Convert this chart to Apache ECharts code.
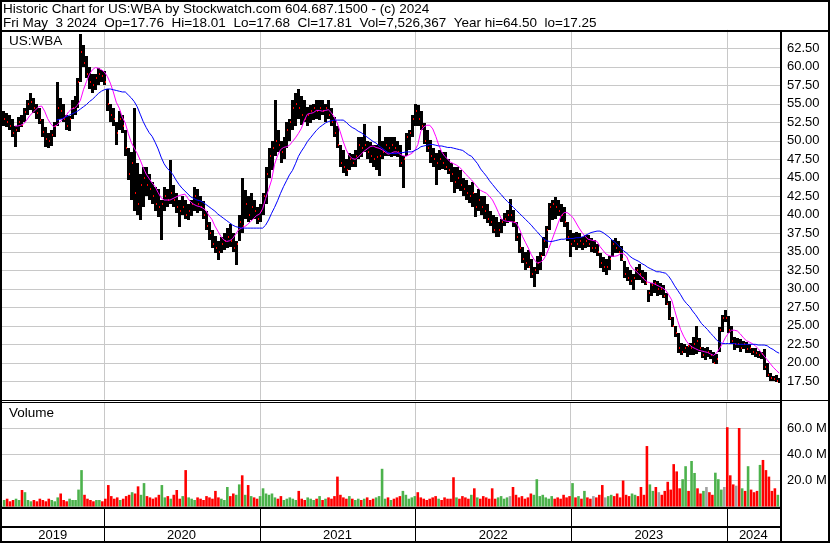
<!DOCTYPE html>
<html><head><meta charset="utf-8">
<script src="https://cdn.jsdelivr.net/npm/echarts/dist/echarts.min.js"></script>
<style>html,body{margin:0;padding:0;background:#fff}#c{width:830px;height:543px}</style>
</head><body><div id="c"></div>
<script>
// weekly bars (Fridays) from 2019-05-10 to 2024-05-03
const firstWeek = [2019, 4, 10];
const lows = [52.0,51.8,51.5,50.5,49.2,51.2,51.8,52.5,53.5,54.2,
 53.8,53.0,52.3,50.5,49.2,49.0,49.3,50.5,52.0,53.0,
 52.5,51.5,51.3,53.0,53.5,54.5,58.0,60.0,58.5,57.0,
 56.5,56.8,57.5,58.0,57.5,54.0,52.5,52.0,49.5,51.5,
 51.0,48.0,44.7,42.0,40.5,40.0,39.3,41.0,42.5,42.0,
 41.5,40.5,39.7,36.6,40.5,41.0,41.5,41.0,40.3,38.3,
 40.0,39.5,39.3,39.8,40.5,40.3,40.5,39.5,38.0,36.6,
 35.5,34.8,33.9,34.8,35.2,35.5,35.7,35.0,33.2,36.5,
 37.6,39.5,39.0,39.3,39.5,38.8,39.0,40.0,41.5,45.0,
 46.0,48.0,48.5,47.0,47.5,49.0,50.0,51.5,52.0,53.0,
 52.2,52.5,52.0,52.4,52.8,53.0,52.8,53.5,52.5,53.0,
 52.0,50.5,49.0,46.5,45.6,45.2,46.0,46.5,46.5,47.5,
 47.8,48.5,47.5,47.0,46.5,46.0,45.2,47.5,48.0,48.0,
 47.8,48.0,47.8,46.5,43.6,48.0,48.8,50.5,52.0,52.0,
 51.5,49.6,48.5,47.0,46.5,44.0,46.0,46.2,46.0,45.5,
 44.5,43.0,43.5,43.2,42.5,42.0,41.6,41.0,39.7,40.5,
 40.0,39.5,38.9,38.5,37.5,37.0,37.0,37.5,38.5,38.9,
 39.0,38.3,36.5,34.8,33.5,32.5,32.8,31.5,30.2,32.0,
 32.5,34.5,35.5,38.0,39.3,39.5,39.8,39.0,38.4,36.5,
 34.3,35.6,35.3,35.5,35.3,35.5,35.6,35.0,34.8,34.5,
 32.8,32.3,31.9,32.5,34.3,34.8,34.8,33.8,31.5,31.0,
 30.5,29.8,31.2,31.2,30.8,30.5,28.2,29.0,29.5,29.0,
 29.2,28.8,27.8,25.8,24.8,23.5,21.3,21.1,21.3,20.8,
 21.0,21.0,21.2,21.5,20.7,20.4,20.8,20.5,20.0,19.8,
 21.5,24.2,25.5,24.0,22.5,21.7,22.0,21.5,21.8,21.3,
 21.3,21.0,20.8,20.7,20.5,19.0,18.1,17.6,17.5,17.4,17.25];
const highs = [54.0,53.8,53.5,53.0,52.0,53.2,53.5,54.5,55.5,56.4,
 55.8,55.0,54.5,53.0,51.8,51.0,51.5,52.5,58.0,55.8,
 55.0,53.5,53.3,55.5,56.0,58.5,64.5,63.0,61.5,60.0,
 59.0,59.0,59.8,59.6,59.5,57.0,55.0,54.5,52.5,54.0,
 53.5,51.5,49.0,48.5,54.4,47.0,45.5,46.5,46.5,45.5,
 44.5,43.8,43.5,42.0,43.8,43.5,47.4,44.0,43.0,42.0,
 42.5,42.0,41.5,42.0,43.8,43.5,42.5,41.8,40.5,39.0,
 38.0,37.2,36.5,37.0,37.6,38.2,38.7,37.5,36.5,40.0,
 45.0,43.4,42.5,43.0,42.0,41.0,41.5,43.0,46.5,49.0,
 50.0,55.5,51.5,50.0,50.5,52.5,53.0,55.5,56.4,57.0,
 56.0,55.5,54.6,54.8,55.0,55.5,55.5,55.5,55.0,55.5,
 54.5,53.2,52.0,49.5,48.8,47.5,48.4,48.2,48.8,50.5,
 50.5,52.3,50.0,49.8,49.5,49.5,52.0,50.0,50.5,50.5,
 50.5,50.5,50.0,49.5,48.0,51.0,51.5,53.5,55.0,54.8,
 54.0,52.4,51.5,50.1,49.0,48.3,48.8,48.5,48.5,47.5,
 47.0,46.5,46.5,46.0,45.0,44.7,44.0,44.4,43.0,43.5,
 42.5,42.5,41.5,40.5,40.0,39.7,39.0,39.5,40.2,40.7,
 42.1,40.7,39.0,37.5,35.6,35.0,35.3,34.0,33.0,34.5,
 35.0,37.0,38.5,41.6,42.0,42.4,42.0,41.5,41.1,39.0,
 37.9,37.5,37.7,37.5,37.0,37.3,37.3,36.8,36.6,36.0,
 34.8,34.3,34.0,34.5,36.6,36.8,36.5,35.8,33.8,33.0,
 32.5,32.0,33.0,33.3,32.5,32.3,29.8,30.8,31.2,31.0,
 30.8,30.5,29.4,28.3,26.2,25.0,24.0,22.7,22.5,22.3,
 22.7,23.5,25.0,23.3,22.1,22.0,22.2,21.7,21.5,21.2,
 24.8,26.5,27.2,26.3,25.0,23.5,23.4,23.2,23.0,22.8,
 22.5,22.0,22.0,21.6,21.5,21.8,20.0,18.6,18.2,18.4,18.01];
const closes = [53.0,52.6,52.0,51.0,51.5,52.5,52.2,53.9,55.0,55.2,
 54.5,53.8,52.8,51.2,50.2,50.0,50.8,52.0,54.5,54.0,
 53.0,52.0,53.0,54.5,55.5,58.0,62.0,60.5,59.0,58.0,
 57.5,58.5,59.0,58.8,58.0,55.0,53.5,53.0,51.0,53.0,
 52.0,49.0,45.5,47.0,43.0,41.5,44.0,45.0,44.0,43.5,
 42.5,41.5,41.0,41.5,42.5,42.0,43.0,42.0,41.0,40.5,
 41.0,40.0,40.5,41.5,42.5,41.5,41.0,40.0,38.5,37.5,
 36.0,35.5,35.0,36.0,36.5,37.0,36.5,35.5,36.0,39.0,
 38.5,41.5,40.0,41.0,40.5,39.5,40.5,42.5,45.5,48.0,
 49.0,50.0,49.5,48.5,50.0,51.5,52.5,54.5,55.0,54.5,
 53.5,53.0,53.5,54.0,54.5,54.0,54.5,54.0,54.5,53.5,
 52.5,51.0,49.5,47.0,46.5,46.0,47.5,47.0,48.0,49.5,
 49.0,49.5,48.5,48.0,47.5,47.8,48.0,48.5,49.5,49.0,
 49.5,49.0,48.5,47.0,47.5,50.5,51.0,53.0,54.0,53.0,
 52.0,50.0,49.0,48.0,47.5,47.0,47.5,47.0,46.5,46.0,
 45.5,44.5,45.0,44.0,43.5,43.0,42.5,43.0,41.0,42.0,
 41.0,40.5,39.5,39.0,38.0,37.5,38.0,39.0,39.5,40.0,
 40.0,39.0,37.0,35.5,34.0,33.5,33.0,32.0,32.5,33.5,
 34.5,36.5,38.0,41.0,41.5,41.0,40.5,40.0,39.0,37.0,
 36.0,36.5,36.0,36.5,36.0,36.5,36.0,35.5,35.5,35.0,
 33.5,33.0,33.0,34.0,36.0,35.5,35.0,34.0,32.0,31.5,
 31.0,31.5,32.5,32.0,31.5,30.8,29.5,30.5,30.8,30.0,
 30.0,29.0,28.0,26.0,25.0,24.0,22.0,21.5,22.0,22.3,
 22.0,22.5,23.0,22.0,21.0,21.5,21.5,21.0,20.0,20.5,
 24.5,26.0,26.0,24.5,23.0,22.5,22.5,22.0,22.5,21.8,
 22.0,21.5,21.3,21.0,21.2,19.5,18.3,18.0,17.8,17.6,17.81];
const maShort = [null,null,null,null,52.0,52.0,52.1,52.3,52.8,53.4,
 53.8,54.2,54.6,54.7,54.0,53.0,52.3,51.9,52.1,52.5,
 52.9,53.3,53.9,54.3,54.4,54.8,55.5,56.9,58.0,59.0,
 59.6,59.9,59.8,59.6,59.3,58.7,57.8,56.6,55.2,54.4,
 53.2,52.4,51.0,49.8,49.0,48.3,47.4,46.4,45.5,44.9,
 44.3,43.8,43.0,42.3,42.0,42.0,42.0,42.2,42.4,42.6,
 42.7,42.8,42.2,41.7,41.4,41.2,41.1,40.9,40.6,39.9,
 39.4,38.5,37.8,37.1,36.6,36.4,36.5,36.8,37.4,38.0,
 38.2,38.4,38.7,39.1,39.5,39.9,40.1,40.8,42.2,43.4,
 44.7,46.8,48.0,48.8,49.1,49.2,49.4,49.9,50.4,51.0,
 51.7,52.8,53.6,53.7,53.8,54.1,54.1,54.0,54.1,54.2,
 53.8,53.2,52.4,51.2,49.9,48.8,48.0,47.6,47.5,47.8,
 48.2,48.6,48.9,49.2,49.3,49.1,49.0,48.8,48.5,48.2,
 48.3,48.5,48.5,48.2,48.0,47.9,48.1,48.3,48.7,49.5,
 51.3,51.9,52.1,52.1,51.6,50.6,49.4,48.5,47.9,47.5,
 47.1,46.9,46.7,46.4,46.0,45.5,45.1,44.7,44.2,43.7,
 43.3,43.1,42.9,42.5,42.0,41.2,40.3,39.4,39.2,39.1,
 39.1,39.0,38.9,38.1,37.1,36.3,35.5,34.6,33.9,33.5,
 33.6,33.9,34.6,35.6,36.7,37.8,38.9,39.9,40.3,40.3,
 40.0,39.6,38.9,38.2,37.6,37.1,36.7,36.6,36.5,36.4,
 35.7,35.2,34.7,34.5,34.4,34.4,34.5,34.8,34.7,34.3,
 33.3,32.7,32.4,32.0,31.6,31.2,30.9,30.8,30.7,30.5,
 30.3,30.1,29.8,29.2,28.5,27.1,25.7,24.5,23.6,22.9,
 22.4,22.1,21.9,21.7,21.6,21.5,21.4,21.2,21.0,21.3,
 21.9,22.6,23.4,24.0,24.4,24.4,24.3,23.9,23.4,23.0,
 22.8,22.6,22.3,21.9,21.4,20.9,20.4,19.9,19.4,19.0,18.6];
const maLong = [null,null,null,null,null,null,null,null,null,null,
 null,null,null,null,null,null,null,null,52.8,52.9,
 53.0,53.2,53.4,53.6,53.8,54.0,54.3,54.6,54.9,55.3,
 55.6,56.0,56.4,56.7,56.9,57.0,57.0,56.9,56.8,56.7,
 56.6,56.6,56.2,55.8,55.3,54.6,53.6,52.6,51.8,51.1,
 50.6,49.8,48.9,47.8,46.9,46.3,45.9,45.4,44.7,44.1,
 43.6,43.2,42.8,42.4,42.2,42.0,41.9,41.7,41.4,41.1,
 40.8,40.5,40.1,39.8,39.5,39.2,38.9,38.6,38.4,38.3,
 38.2,38.2,38.2,38.2,38.2,38.2,38.2,38.2,38.6,39.3,
 40.2,41.0,41.9,42.9,43.8,44.6,45.4,46.0,46.9,47.9,
 48.6,49.2,49.9,50.4,50.9,51.4,51.8,52.1,52.4,52.6,
 52.7,52.8,52.8,52.8,52.8,52.5,52.1,51.8,51.6,51.3,
 51.1,50.8,50.5,50.2,49.9,49.7,49.3,49.0,48.7,48.4,
 48.3,48.3,48.3,48.4,48.4,48.5,48.5,48.5,48.7,48.9,
 49.2,49.3,49.4,49.5,49.5,49.4,49.3,49.3,49.2,49.1,
 49.1,49.0,48.9,48.8,48.7,48.4,48.1,47.9,47.4,46.9,
 46.2,45.7,45.2,44.6,44.1,43.6,43.1,42.7,42.2,41.8,
 41.4,41.0,40.6,40.2,39.8,39.4,39.0,38.6,38.1,37.7,
 37.2,36.8,36.5,36.4,36.4,36.5,36.6,36.7,36.7,36.8,
 36.8,36.8,36.9,36.9,37.0,37.2,37.4,37.6,37.7,37.8,
 37.8,37.6,37.3,37.0,36.6,36.3,35.9,35.5,35.1,34.8,
 34.4,34.1,33.9,33.7,33.4,33.2,32.9,32.7,32.5,32.3,
 32.3,32.2,32.1,31.7,31.1,30.4,29.8,29.2,28.5,28.0,
 27.6,27.0,26.5,25.9,25.3,24.9,24.5,24.0,23.6,23.1,
 22.8,22.6,22.6,22.6,22.6,22.6,22.5,22.5,22.5,22.5,
 22.5,22.5,22.5,22.4,22.4,22.4,22.3,22.0,21.8,21.5,21.3];
// volume in millions of shares
const volumes = [5,6,4,5,6,5,12.7,11,5,4,
 5,4,6,5,4,6,5,4,7,10,
 5,4,6,5,5,13,28,9,6,5,
 4,5,5,4,6,16.5,8,6,7,5,
 6,8,9,11,10,15.5,9,18,8,7,
 6,7,9,16.5,7,8,6,9,12.7,6,
 8,28,7,6,5,7,6,5,8,7,
 6,12,7,6,5,15,8,10,9,17,
 24,9,16.5,8,7,6,8,14,10,9,
 10,7,6,8,5,6,7,6,5,12,
 6,5,7,6,5,6,8,5,6,7,
 6,8,23,9,7,6,8,6,5,6,
 5,6,7,5,6,7,8,29,6,7,
 5,6,7,8,12,9,6,7,8,11,
 7,6,5,6,7,8,6,5,7,6,
 6,22.5,7,6,8,7,6,9,14,7,
 6,8,7,6,14,6,7,8,6,7,
 8,15,9,7,8,6,7,10,9,21,
 8,9,7,6,8,6,7,6,9,7,
 8,18,7,8,6,12,7,6,8,7,
 9,16.5,7,8,9,8,10,7,20,9,
 8,10,9,8,15,9,46.5,17,12,15,
 11,9,12,19,13,32.6,27,14,21,31,
 12,35,25.8,14,10,12,15,11,9,26,
 21,13,15,61,24,17,16,60.4,14,12,
 31,13,11,12,32,35.8,28,23,12,14,9];
const priceTicks = [17.5,20,22.5,25,27.5,30,32.5,35,37.5,40,42.5,45,47.5,50,52.5,55,57.5,60,62.5];
const volumeTicks = [20,40,60];
const yearLabels = ['2019','2020','2021','2022','2023','2024'];
const axisStart = '2019-05-08', axisEnd = '2024-05-05';
const titleLine1 = 'Historic Chart for US:WBA by Stockwatch.com 604.687.1500 - (c) 2024';
const titleLine2 = 'Fri May  3 2024  Op=17.76  Hi=18.01  Lo=17.68  Cl=17.81  Vol=7,526,367  Year hi=64.50  lo=17.25';
const symbolLabel = 'US:WBA';
const volumeLabel = 'Volume';

const weeks = lows.map((_, i) => new Date(Date.UTC(firstWeek[0], firstWeek[1], firstWeek[2]) + i * 7 * 864e5).toISOString().slice(0, 10));
const FONT = '"Liberation Sans", Arial, sans-serif';
const yearSpans = yearLabels.map(y => [
  (y + '-01-01') < axisStart ? axisStart : y + '-01-01',
  ((+y + 1) + '-01-01') > axisEnd ? axisEnd : (+y + 1) + '-01-01']);
const yearStarts = yearLabels.slice(1).map(y => [y + '-01-01']);

function vGrid(color) {
  return function (params, api) {
    const x = Math.round(api.coord([api.value(0), 0])[0]) + 0.5;
    const cs = params.coordSys;
    return { type: 'line', shape: { x1: x, y1: cs.y, x2: x, y2: cs.y + cs.height }, style: { stroke: color, lineWidth: 1 } };
  };
}

const chart = echarts.init(document.getElementById('c'), null, { renderer: 'canvas' });
const xBase = { type: 'time', min: axisStart, max: axisEnd, show: false };
chart.setOption({
  animation: false,
  backgroundColor: '#fff',
  grid: [
    { left: 2, right: 50, top: 29.8, height: 370 },
    { left: 2, right: 50, top: 402.5, height: 104 },
    { left: 2, right: 50, top: 509, height: 34 }
  ],
  xAxis: [Object.assign({ gridIndex: 0 }, xBase), Object.assign({ gridIndex: 1 }, xBase), Object.assign({ gridIndex: 2 }, xBase)],
  yAxis: [
    { gridIndex: 0, type: 'value', position: 'right', min: 15, max: 65, interval: 2.5,
      axisLine: { show: false }, axisTick: { show: false },
      splitLine: { lineStyle: { color: '#c8c8c8', width: 1 } },
      axisLabel: { margin: 7, color: '#000', fontSize: 13, fontFamily: FONT,
        formatter: v => priceTicks.indexOf(v) >= 0 ? v.toFixed(2) : '' } },
    { gridIndex: 1, type: 'value', position: 'right', min: 0, max: 80, interval: 20,
      axisLine: { show: false }, axisTick: { show: false },
      splitLine: { lineStyle: { color: '#c8c8c8', width: 1 } },
      axisLabel: { margin: 7, color: '#000', fontSize: 13, fontFamily: FONT,
        formatter: v => volumeTicks.indexOf(v) >= 0 ? v.toFixed(1) + ' M' : '' } },
    { gridIndex: 2, type: 'value', min: 0, max: 1, show: false }
  ],
  series: [
    { type: 'custom', xAxisIndex: 0, yAxisIndex: 0, z: 1, silent: true, data: yearStarts, encode: { x: 0 }, renderItem: vGrid('#c8c8c8') },
    { type: 'custom', xAxisIndex: 1, yAxisIndex: 1, z: 1, silent: true, data: yearStarts, encode: { x: 0 }, renderItem: vGrid('#c8c8c8') },
    { type: 'custom', xAxisIndex: 0, yAxisIndex: 0, z: 3, silent: true,
      data: weeks.map((w, i) => [w, lows[i], highs[i], closes[i]]),
      encode: { x: 0, y: [1, 2, 3] },
      renderItem: function (params, api) {
        const h = api.coord([api.value(0), api.value(2)]);
        const l = api.coord([api.value(0), api.value(1)]);
        const c = api.coord([api.value(0), api.value(3)]);
        const px = Math.round(h[0]);
        const top = Math.round(h[1]);
        return { type: 'group', children: [
          { type: 'rect', shape: { x: px - 1, y: top, width: 3, height: Math.max(1, Math.round(l[1]) - top) }, style: { fill: '#000' } },
          { type: 'rect', shape: { x: px + 1, y: Math.round(c[1]) - 1, width: 1, height: 2 }, style: { fill: '#ff0000' } }
        ] };
      } },
    { type: 'line', xAxisIndex: 0, yAxisIndex: 0, z: 4, silent: true, showSymbol: false,
      data: weeks.map((w, i) => [w, maShort[i]]), lineStyle: { color: '#ff00ff', width: 1 } },
    { type: 'line', xAxisIndex: 0, yAxisIndex: 0, z: 4, silent: true, showSymbol: false,
      data: weeks.map((w, i) => [w, maLong[i]]), lineStyle: { color: '#0000ff', width: 1 } },
    { type: 'bar', xAxisIndex: 1, yAxisIndex: 1, z: 3, silent: true, barWidth: 2.6,
      data: weeks.map((w, i) => [w, volumes[i]]),
      itemStyle: { color: p => {
        const i = p.dataIndex; if (i === 0) return '#4cb24c';
        return closes[i] > closes[i - 1] ? '#4cb24c' : (closes[i] < closes[i - 1] ? '#ff0000' : '#a0a0a0');
      } } },
    { type: 'custom', xAxisIndex: 2, yAxisIndex: 2, z: 3, silent: true, data: yearSpans, encode: { x: [0, 1] },
      renderItem: function (params, api) {
        const a = api.coord([api.value(0), 0]);
        const b = api.coord([api.value(1), 0]);
        const cs = params.coordSys;
        const ch = [{ type: 'text', style: { text: yearLabels[params.dataIndex], x: (a[0] + b[0]) / 2, y: cs.y + 26,
          align: 'center', verticalAlign: 'middle', font: '13px ' + FONT, fill: '#000' } }];
        if (params.dataIndex > 0) {
          const x = Math.round(a[0]) + 0.5;
          ch.push({ type: 'line', shape: { x1: x, y1: cs.y, x2: x, y2: cs.y + cs.height }, style: { stroke: '#000', lineWidth: 1 } });
        }
        return { type: 'group', children: ch };
      } }
  ],
  graphic: [
    { type: 'rect', z: 100, shape: { x: 0, y: 30, width: 830, height: 2 }, style: { fill: '#000' } },
    { type: 'rect', z: 100, shape: { x: 780, y: 30, width: 2, height: 513 }, style: { fill: '#000' } },
    { type: 'rect', z: 100, shape: { x: 0, y: 400, width: 830, height: 1 }, style: { fill: '#000' } },
    { type: 'rect', z: 100, shape: { x: 0, y: 402, width: 780, height: 1 }, style: { fill: '#000' } },
    { type: 'rect', z: 100, shape: { x: 0, y: 507, width: 780, height: 2 }, style: { fill: '#000' } },
    { type: 'rect', z: 100, shape: { x: 0, y: 526, width: 780, height: 2 }, style: { fill: '#000' } },
    { type: 'rect', z: 100, shape: { x: 1, y: 1, width: 828, height: 541 }, style: { fill: null, stroke: '#000', lineWidth: 2 } },
    { type: 'text', z: 100, style: { text: titleLine1, x: 3, y: 9.5, verticalAlign: 'middle', font: '13.5px ' + FONT, fill: '#000' } },
    { type: 'text', z: 100, style: { text: titleLine2, x: 3, y: 23.5, verticalAlign: 'middle', font: '13.5px ' + FONT, fill: '#000' } },
    { type: 'text', z: 100, style: { text: symbolLabel, x: 9, y: 41.5, verticalAlign: 'middle', font: '13.5px ' + FONT, fill: '#000' } },
    { type: 'text', z: 100, style: { text: volumeLabel, x: 9, y: 413.5, verticalAlign: 'middle', font: '13.5px ' + FONT, fill: '#000' } }
  ]
});
</script>
</body></html>
